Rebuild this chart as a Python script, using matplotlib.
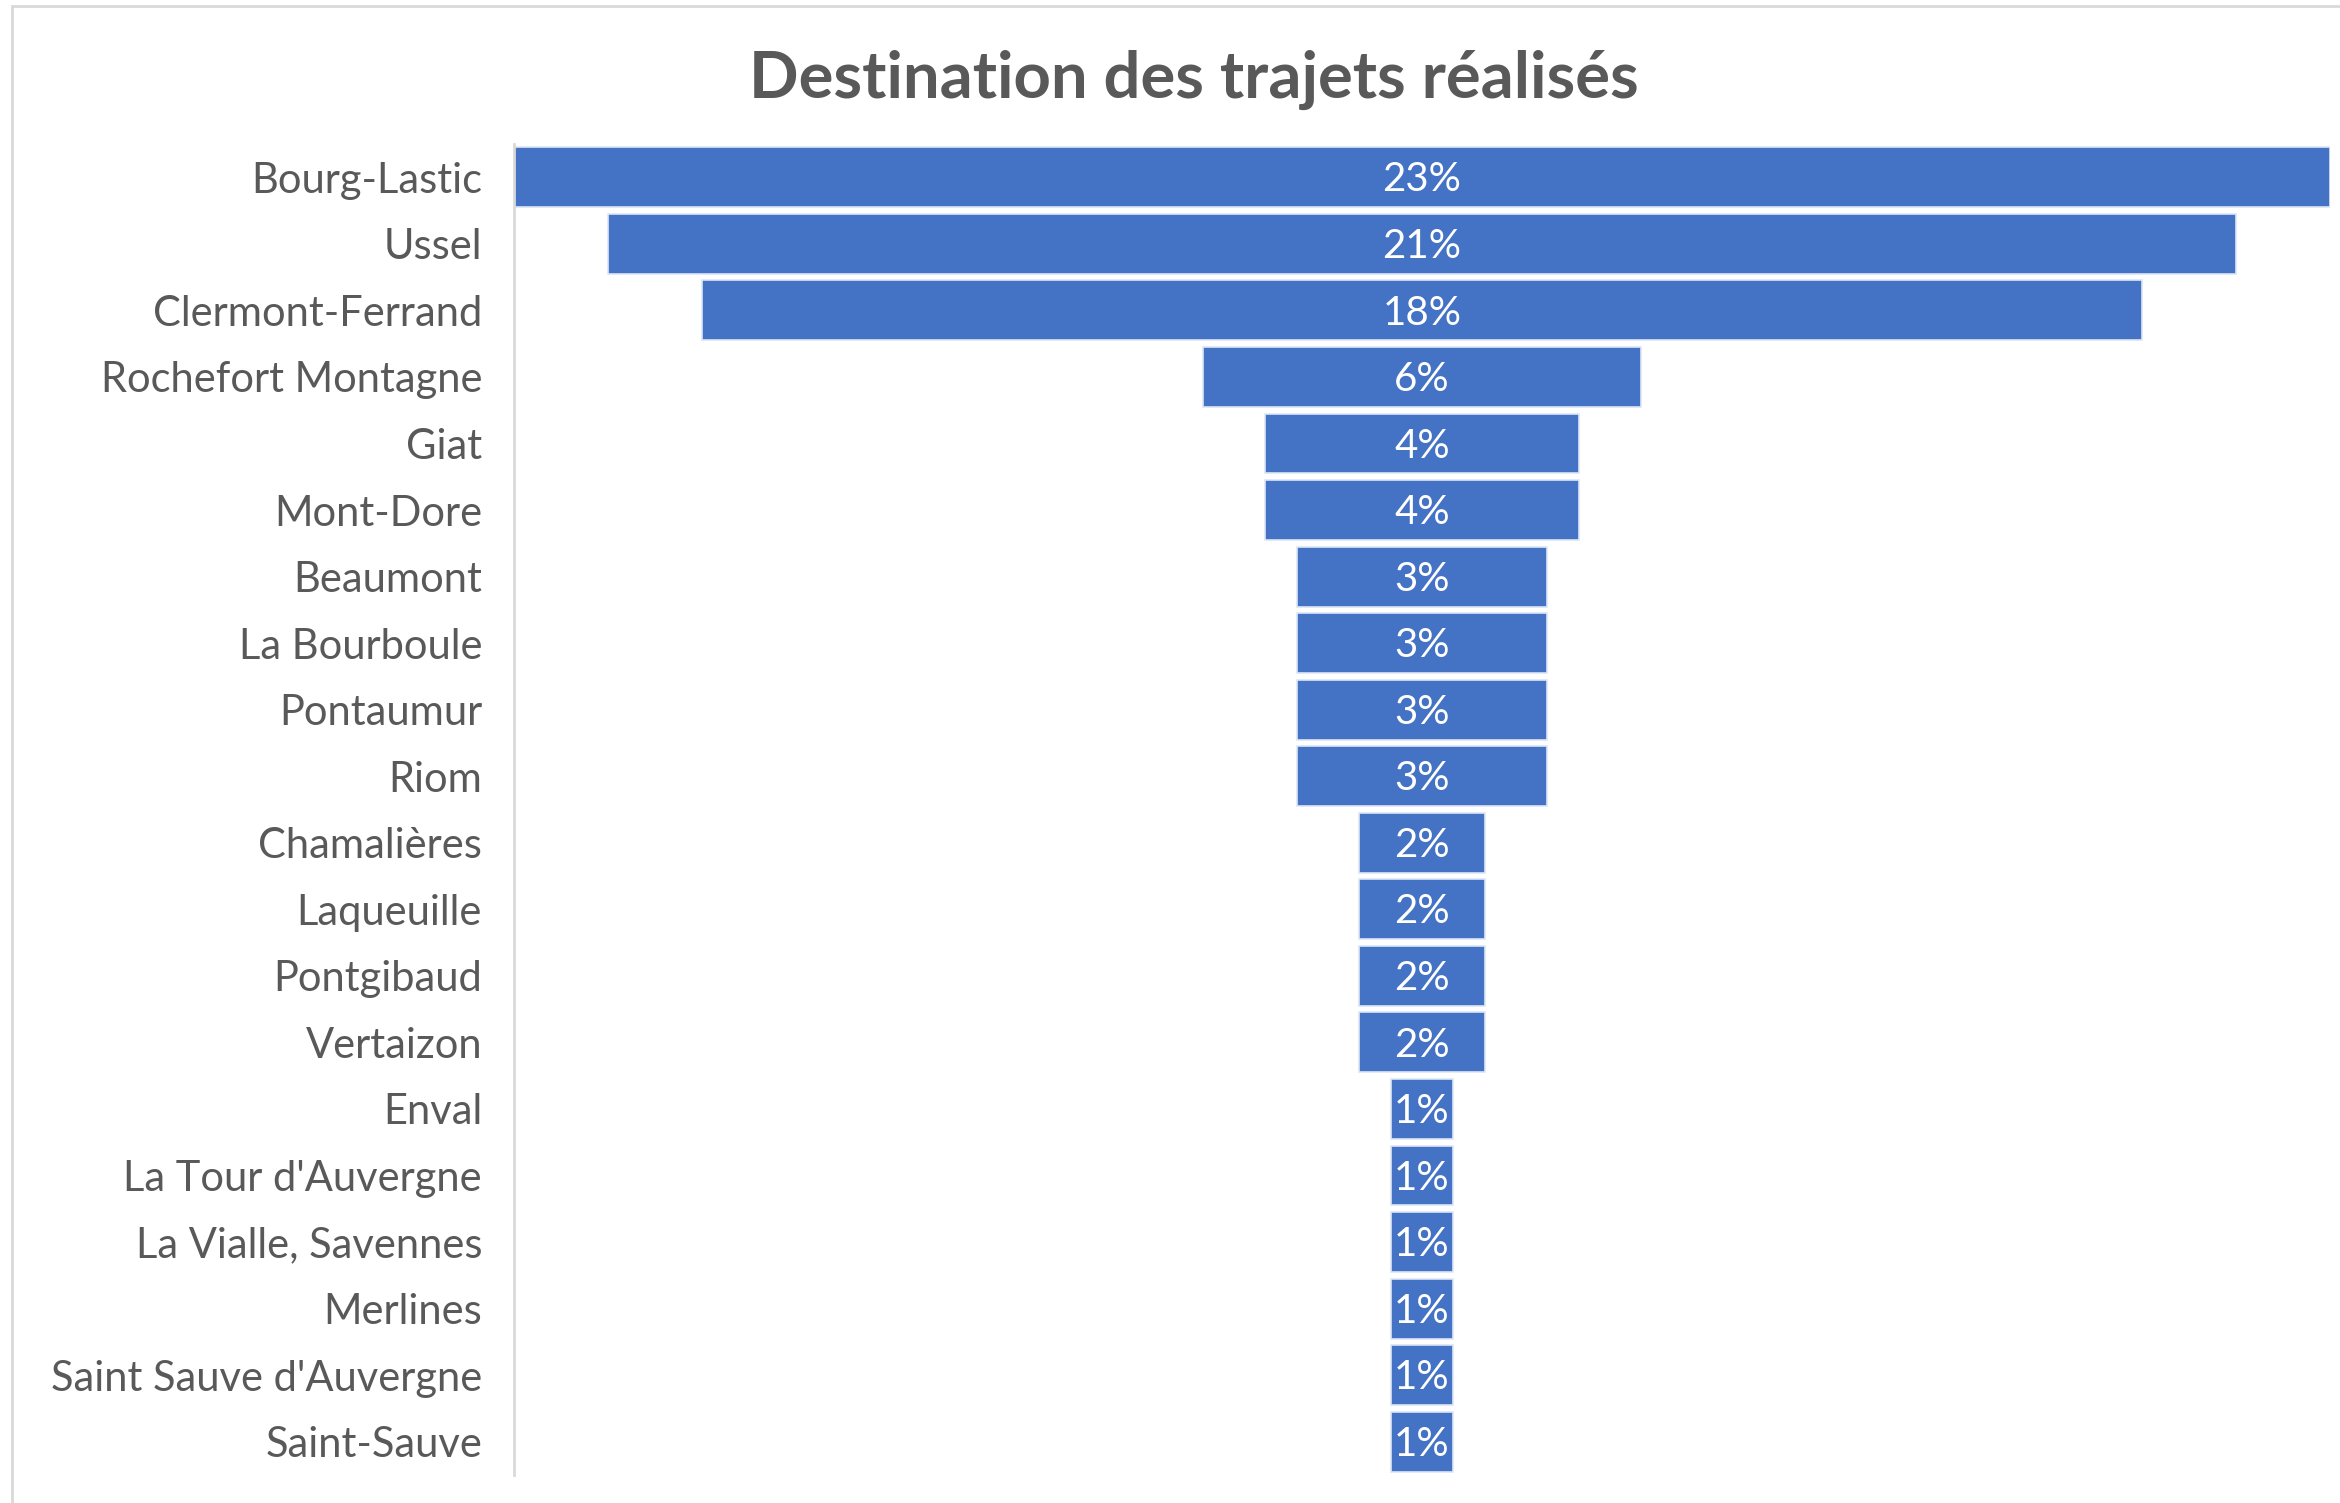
import matplotlib.pyplot as plt
from matplotlib.patches import Rectangle

# ── data ────────────────────────────────────────────────
destinations = ['Bourg-Lastic', 'Ussel', 'Clermont-Ferrand', 'Rochefort Montagne',
                'Giat', 'Mont-Dore', 'Beaumont', 'La Bourboule', 'Pontaumur', 'Riom',
                'Chamalières', 'Laqueuille', 'Pontgibaud', 'Vertaizon', 'Enval',
                "La Tour d'Auvergne", 'La Vialle, Savennes', 'Merlines',
                "Saint Sauve d'Auvergne", 'Saint-Sauve']
trips = [29, 26, 23, 7, 5, 5, 4, 4, 4, 4, 2, 2, 2, 2, 1, 1, 1, 1, 1, 1]

TITLE = 'Destination des trajets réalisés'
BAR_COLOR = '#4472C4'
TEXT_GREY = '#595959'

plt.rcParams['font.family'] = ['Lato', 'DejaVu Sans']

total = sum(trips)
shares = [t / total for t in trips]

fig = plt.figure(figsize=(23.4, 15.03), dpi=100)
fig.patch.set_facecolor('white')

# chart-area border (clipped on right / bottom like the screenshot)
fig.add_artist(Rectangle((12 / 2340, -0.1), 1.2, 0.1 + (1 - 6 / 1503),
                         transform=fig.transFigure, fill=False,
                         edgecolor='#D9D9D9', linewidth=2))

ax = fig.add_axes([514 / 2340, 28 / 1503, (2330 - 514) / 2340, (1475 - 144) / 1503])

ypos = list(range(len(destinations)))
lefts = [-t / 2 for t in trips]
ax.barh(ypos, trips, left=lefts, height=0.9, color=BAR_COLOR,
        edgecolor='#DCE6F5', linewidth=1.2)

for y, s in zip(ypos, shares):
    ax.text(0, y + 0.04, f'{s * 100:.0f}%', ha='center', va='center',
            color='white', fontsize=29)

ax.set_xlim(-max(trips) / 2, max(trips) / 2)
ax.set_ylim(len(destinations) - 0.5, -0.5)
ax.set_yticks(ypos)
ax.set_yticklabels(destinations, fontsize=30, color=TEXT_GREY)
ax.set_xticks([])
ax.tick_params(axis='y', length=0, pad=23)

for side in ['top', 'right', 'bottom']:
    ax.spines[side].set_visible(False)
ax.spines['left'].set_color('#D9D9D9')
ax.spines['left'].set_linewidth(2)

fig.text(1194 / 2340, 1 - 80 / 1503, TITLE, ha='center', va='center',
         fontsize=47, fontweight='bold', color=TEXT_GREY)

fig.savefig('out.png', dpi=100, facecolor='white')
